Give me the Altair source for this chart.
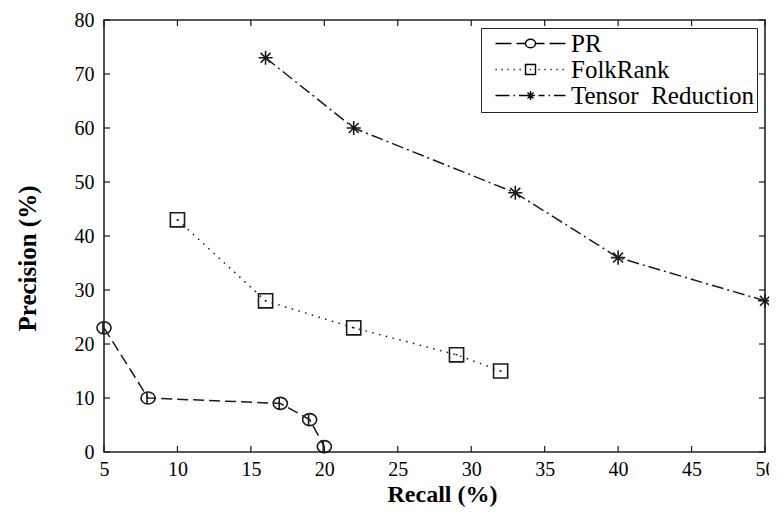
import altair as alt
import pandas as pd

# ---- data ----
methods = ["PR", "FolkRank", "Tensor Reduction"]
recall_pr = [5, 8, 17, 19, 20]
prec_pr = [23, 10, 9, 6, 1]
recall_fr = [10, 16, 22, 29, 32]
prec_fr = [43, 28, 23, 18, 15]
recall_tr = [16, 22, 33, 40, 50]
prec_tr = [73, 60, 48, 36, 28]
x_ticks = [5, 10, 15, 20, 25, 30, 35, 40, 45, 50]
y_ticks = [0, 10, 20, 30, 40, 50, 60, 70, 80]

rows = []
for m, xs, ys in zip(methods, [recall_pr, recall_fr, recall_tr], [prec_pr, prec_fr, prec_tr]):
    for i, (a, b) in enumerate(zip(xs, ys)):
        rows.append({"Method": m, "Recall": a, "Precision": b, "idx": i})
df = pd.DataFrame(rows)
xt = pd.DataFrame({"Recall": x_ticks})
yt = pd.DataFrame({"Precision": y_ticks})

W, H = 661, 432
SERIF = "'Liberation Serif', 'Times New Roman', Times, 'DejaVu Serif', serif"
INK = "#1a1a1a"

dashes = [[11, 5], [1.5, 5.5], [12, 4, 2, 4]]

marker_paths = [
    "M-1,0 A1,0.85 0 1,0 1,0 A1,0.85 0 1,0 -1,0 Z M-0.15,-0.85 L-0.15,0.85",
    "M-1,-1 L1,-1 L1,1 L-1,1 Z M-0.12,0 L0.12,0",
    "M-1,0 L1,0 M0,-1 L0,1 M-0.7,-0.7 L0.7,0.7 M-0.7,0.7 L0.7,-0.7",
]

SH = 0.9  # shift of the legend glyph, in symbol units


def X(v):
    return f"{v + SH:.2f}"


def seg(a, b):
    return f"M{X(a)},0 L{X(b)},0 "


def dots(a, b, step=0.6, w=0.12):
    s = ""
    x = a
    while x + w <= b + 1e-9:
        s += seg(x, x + w)
        x += step
    return s


legend_paths = [
    seg(-1, 0.6) + seg(1.1, 2.0)
    + f"M{X(2)},0 A0.5,0.42 0 1,0 {X(3)},0 A0.5,0.42 0 1,0 {X(2)},0 "
    + seg(3, 3.9) + seg(4.4, 6),
    dots(-1, 1.8)
    + f"M{X(2)},-0.5 L{X(3)},-0.5 L{X(3)},0.5 L{X(2)},0.5 Z "
    + seg(2.44, 2.56) + dots(3.3, 6),
    seg(-1, 0.4) + seg(0.8, 0.95) + seg(1.35, 2.95)
    + f"M{X(2.5)},-0.45 L{X(2.5)},0.45 M{X(2.2)},-0.3 L{X(2.8)},0.3 "
    + f"M{X(2.2)},0.3 L{X(2.8)},-0.3 "
    + seg(3.3, 3.9) + seg(4.3, 4.45) + seg(4.85, 6),
]

x_enc = alt.X(
    "Recall:Q",
    scale=alt.Scale(domain=[5, 50], nice=False, zero=False),
    axis=alt.Axis(
        values=x_ticks, title="Recall (%)", grid=False, domain=False, ticks=False,
        tickSize=0, labelPadding=7, labelFont=SERIF, labelFontSize=20,
        labelColor="black", titleFont=SERIF, titleFontSize=24, titleFontWeight="bold",
        titleColor="black", titleX=338, titleY=42, titleBaseline="middle",
        labelFlush=False,
    ),
)
y_enc = alt.Y(
    "Precision:Q",
    scale=alt.Scale(domain=[0, 80], nice=False, zero=False),
    axis=alt.Axis(
        values=y_ticks, title="Precision (%)", grid=False, domain=False, ticks=False,
        tickSize=0, labelPadding=10, labelFont=SERIF, labelFontSize=20,
        labelColor="black", titleFont=SERIF, titleFontSize=25, titleFontWeight="bold",
        titleColor="black", titleX=-77, titleY=238, titleBaseline="middle",
        labelFlush=False,
    ),
)

lines = alt.Chart(df).mark_line(color=INK, strokeWidth=1.5).encode(
    x=x_enc,
    y=y_enc,
    strokeDash=alt.StrokeDash(
        "Method:N", scale=alt.Scale(domain=methods, range=dashes), legend=None
    ),
    order="idx:Q",
)

points = alt.Chart(df).mark_point(
    filled=False, color=INK, strokeWidth=1.6, size=200, opacity=1
).encode(
    x="Recall:Q",
    y="Precision:Q",
    shape=alt.Shape(
        "Method:N", scale=alt.Scale(domain=methods, range=marker_paths), legend=None
    ),
)

legend_layer = alt.Chart(df).transform_filter("false").mark_point(
    filled=False, color="black", strokeWidth=1.4, opacity=1
).encode(
    x="Recall:Q",
    y="Precision:Q",
    shape=alt.Shape(
        "Method:N",
        scale=alt.Scale(domain=methods, range=legend_paths),
        legend=alt.Legend(
            title=None, orient="top-right", offset=8, padding=3,
            strokeColor="#222", fillColor="white",
            symbolSize=400, symbolStrokeWidth=1.4, symbolStrokeColor="black",
            symbolFillColor="transparent", symbolOpacity=1,
            labelFont=SERIF, labelFontSize=25, labelColor="black",
            labelOffset=62, rowPadding=0, labelLimit=400,
            labelExpr="replace(datum.label, ' ', '\u00a0\u00a0')",
        ),
    ),
)

tick_len = 6
bottom_ticks = alt.Chart(xt).mark_rule(color=INK, strokeWidth=1.2).encode(
    x="Recall:Q", y=alt.value(H), y2=alt.value(H - tick_len)
)
top_ticks = alt.Chart(xt).mark_rule(color=INK, strokeWidth=1.2).encode(
    x="Recall:Q", y=alt.value(0), y2=alt.value(tick_len)
)
left_ticks = alt.Chart(yt).mark_rule(color=INK, strokeWidth=1.2).encode(
    y="Precision:Q", x=alt.value(0), x2=alt.value(tick_len)
)
right_ticks = alt.Chart(yt).mark_rule(color=INK, strokeWidth=1.2).encode(
    y="Precision:Q", x=alt.value(W), x2=alt.value(W - tick_len)
)

chart = (
    alt.layer(lines, points, legend_layer, bottom_ticks, top_ticks, left_ticks, right_ticks)
    .resolve_scale(shape="independent")
    .properties(
        width=W,
        height=H,
        autosize=alt.AutoSizeParams(type="none"),
        padding={"left": 96, "top": 12, "right": 4, "bottom": 56},
        background="white",
    )
    .configure_view(stroke="#222", strokeWidth=1.6)
)

chart.save("out.html", embed_options={"renderer": "svg", "actions": False})
